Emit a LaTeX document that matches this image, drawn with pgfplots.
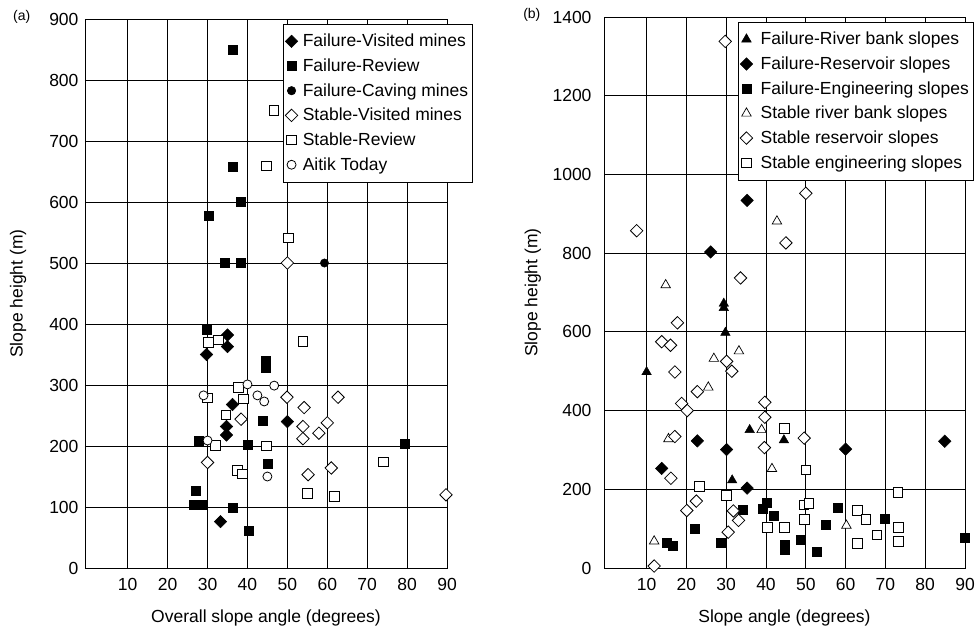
\documentclass[border=0pt]{standalone}
\usepackage{fontspec}
\setmainfont{Liberation Sans}
\usepackage{pgfplots}
\pgfplotsset{compat=1.18}
\begin{document}
\begin{tikzpicture}
\useasboundingbox (0pt,0pt) rectangle (977pt,630pt);
\pgfplotsset{
  myax/.style={
    scale only axis,
    clip=false,
    axis line style={black, line width=0.6pt},
    grid=major,
    major grid style={black, line width=0.9pt},
    major tick length=0pt,
    tick label style={font=\fontsize{17.5}{20}\selectfont},
    label style={font=\fontsize{17.5}{20}\selectfont},
    /pgf/number format/assume math mode=true,
    /pgf/number format/1000 sep={},
    xtick={10,20,...,90},
    xmin=-0.7, xmax=90, ymin=0,
    xticklabel style={yshift=-7pt},
    xlabel style={at={(axis description cs:0.5,0)}, anchor=center, yshift=-50pt},
    legend cell align=left,
    legend style={font=\fontsize{17.5}{20}\selectfont, draw=black, line width=0.6pt,
      fill=white, anchor=north west, inner xsep=2pt, inner ysep=8pt, row sep=6.5pt},
  },
  fdia/.style={only marks, mark=square*, mark size=4.4pt, mark options={rotate=45, fill=black, draw=black, line width=0.5pt}},
  odia/.style={only marks, mark=square*, mark size=4.4pt, mark options={rotate=45, fill=white, draw=black, line width=0.8pt}},
  fsq/.style={only marks, mark=square*, mark size=4.5pt, mark options={fill=black, draw=black}},
  osq/.style={only marks, mark=square*, mark size=4.8pt, mark options={fill=white, draw=black, line width=0.8pt}},
  fcirc/.style={only marks, mark=*, mark size=4.2pt, mark options={fill=black, draw=black}},
  ocirc/.style={only marks, mark=*, mark size=4.5pt, mark options={fill=white, draw=black, line width=0.8pt}},
  ftri/.style={only marks, mark=triangle*, mark size=5.5pt, mark options={fill=black, draw=black}},
  otri/.style={only marks, mark=triangle*, mark size=5.5pt, mark options={fill=white, draw=black, line width=0.7pt}},
}
% ---------------- panel (a) ----------------
\begin{axis}[myax,
  at={(85pt,62pt)}, anchor=south west,
  width=362pt, height=549pt,
  ymax=900, ytick={0,100,...,900},
  yticklabel style={xshift=-3pt},
  xlabel={Overall slope angle (degrees)},
  ylabel={Slope height (m)},
  ylabel style={at={(axis description cs:-0.185,0.5)}, anchor=center},
  legend style={at={(axis description cs:0.547,0.991)}, /tikz/every odd column/.append style={column sep=3pt}},
]
\addplot[fdia] coordinates {(35,382) (35,363) (29.75,350) (36.25,268) (34.75,232) (34.75,218) (50,240) (33.25,76)};
\addlegendentry{Failure-Visited mines}
\addplot[fsq] coordinates {(36.2,850) (36.2,658) (38.25,600) (30.2,577) (34.2,501) (38.3,501) (29.7,391) (44.5,340) (44.5,328) (43.7,242) (40,202) (27.9,209) (27,127) (26.5,103) (28.5,103) (36.2,99) (45.2,171) (40.4,61) (79.5,203)};
\addlegendentry{Failure-Review}
\addplot[fcirc] coordinates {(59.3,500)};
\addlegendentry{Failure-Caving mines}
\addplot[odia] coordinates {(50,500) (49.9,280) (54.2,263) (62.7,280) (38.4,244) (53.9,232) (53.9,212) (57.9,221) (60,238) (30,173) (55.2,153) (61,164) (89.75,120)};
\addlegendentry{Stable-Visited mines}
\addplot[osq] coordinates {(46.6,750) (44.75,659) (50.25,541) (53.9,371) (30.2,370) (32.7,374) (37.7,296) (39,277) (29.9,279) (34.6,251) (32,201) (44.75,200) (37.5,160) (38.8,154) (74,174) (55,122) (61.8,117)};
\addlegendentry{Stable-Review}
\addplot[ocirc] coordinates {(29,283) (40,301) (46.7,299) (42.5,283) (44.2,273) (45,150) (30,209)};
\addlegendentry{Aitik Today}
\node[font=\fontsize{14}{16}\selectfont] at (axis description cs:-0.175,1.003) {(a)};
\end{axis}
% ---------------- panel (b) ----------------
\begin{axis}[myax,
  at={(604pt,62pt)}, anchor=south west,
  width=361pt, height=551pt,
  ymax=1400, ytick={0,200,...,1400},
  yticklabel style={xshift=-9pt},
  xlabel={Slope angle (degrees)},
  ylabel={Slope height (m)},
  ylabel style={at={(axis description cs:-0.197,0.5)}, anchor=center},
  legend style={at={(axis description cs:0.371,0.991)}, /tikz/every odd column/.append style={column sep=6pt}},
]
\addplot[ftri] coordinates {(10,498) (29.4,672) (29.4,661) (29.8,598) (35.9,351) (44.5,325) (31.5,223)};
\addlegendentry{Failure-River bank slopes}
\addplot[fdia] coordinates {(35.25,934) (26.1,803) (22.75,323) (30.1,301) (60,302) (84.9,322) (13.8,253) (35.25,203)};
\addlegendentry{Failure-Reservoir slopes}
\addplot[fsq] coordinates {(22.2,100) (28.6,64) (15,64) (16.5,56) (34.2,148) (39.2,150) (40.1,167) (41.9,133) (44.6,58) (44.6,46) (48.6,73) (52.7,41) (55,109) (58,154) (69.9,125) (90,77)};
\addlegendentry{Failure-Engineering slopes}
\addplot[otri] coordinates {(14.8,719) (42.75,881) (26.9,532) (33.2,551) (25.5,459) (38.9,351) (15.5,328) (41.5,252) (11.9,68) (60.2,108)};
\addlegendentry{Stable river bank slopes}
\addplot[odia] coordinates {(29.75,1338) (50,952) (7.5,857) (45,826) (33.6,737) (17.75,623) (13.8,575) (16,566) (17.1,498) (30.1,525) (31.4,500) (22.75,448) (18.8,418) (20.2,400) (39.7,421) (39.7,383) (39.6,306) (49.6,330) (17.1,334) (16.1,228) (22.5,170) (20.1,146) (30.5,91) (11.9,5) (33.1,121) (31.8,145)};
\addlegendentry{Stable reservoir slopes}
\addplot[osq] coordinates {(44.6,354) (50,249) (23.2,208) (30,185) (73.1,192) (49.5,160) (50.8,164) (49.7,123) (40.3,103) (44.6,103) (62.9,147) (65.1,123) (67.9,84) (63,62) (73.2,103) (73.3,68)};
\addlegendentry{Stable engineering slopes}
\node[font=\fontsize{14}{16}\selectfont] at (axis description cs:-0.2,1.003) {(b)};
\end{axis}
\end{tikzpicture}
\end{document}
